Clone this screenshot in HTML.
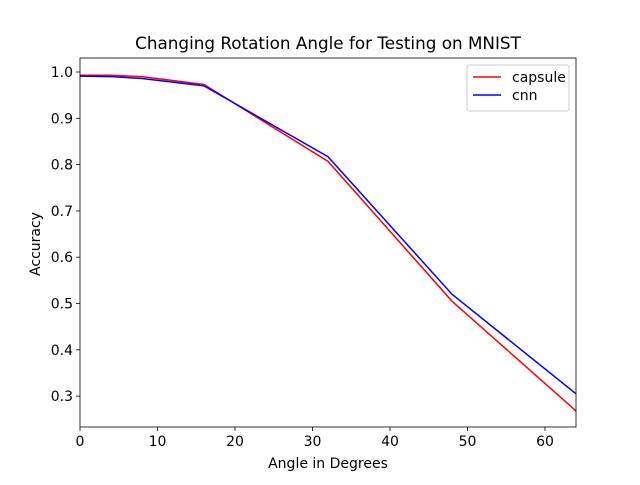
<!DOCTYPE html>
<html><head><meta charset="utf-8"><style>
body{margin:0;background:#fff;}
text{font-family:"DejaVu Sans","Liberation Sans",sans-serif;fill:#000;}
</style></head><body>
<svg id="chart" width="640" height="480" xmlns="http://www.w3.org/2000/svg">
<rect width="640" height="480" fill="#fff"/>
<text x="328" y="49" font-size="16.8" text-anchor="middle">Changing Rotation Angle for Testing on MNIST</text>
<g id="ticks"></g>
<g id="series"></g>
<rect x="80" y="58" width="496" height="369" fill="none" stroke="#000" stroke-width="0.8"/>
<text x="328" y="468" font-size="14" text-anchor="middle">Angle in Degrees</text>
<text x="0" y="0" font-size="14" text-anchor="middle" transform="translate(40,244) rotate(-90)">Accuracy</text>
<g>
<rect x="467" y="65" width="102" height="46" rx="2" fill="#fff" fill-opacity="0.8" stroke="#ccc" stroke-width="1"/>
<line x1="473" y1="77" x2="501" y2="77" stroke="#ff0000" stroke-width="1.5"/>
<text x="512" y="82" font-size="14">capsule</text>
<line x1="473" y1="95" x2="501" y2="95" stroke="#0000ff" stroke-width="1.5"/>
<text x="512" y="100" font-size="14">cnn</text>
</g>
</svg>
<script>
const angles=[0,4,8,16,32,48,64];
const capsule=[0.993,0.993,0.990,0.973,0.807,0.505,0.268];
const cnn=[0.991,0.990,0.986,0.970,0.817,0.520,0.305];
const xTicks=[0,10,20,30,40,50,60];
const yTicks=[0.3,0.4,0.5,0.6,0.7,0.8,0.9,1.0];
const NS="http://www.w3.org/2000/svg";
function xs(v){return 80+v*(496/64);}
function ys(v){return 72+(1.0-v)*463;}
const tg=document.getElementById('ticks');
xTicks.forEach(t=>{
 const l=document.createElementNS(NS,'line');
 l.setAttribute('x1',xs(t));l.setAttribute('x2',xs(t));l.setAttribute('y1',427);l.setAttribute('y2',431);
 l.setAttribute('stroke','#000');l.setAttribute('stroke-width','0.8');
 
 
 tg.appendChild(l);
 const tx=document.createElementNS(NS,'text');
 tx.setAttribute('x',xs(t));tx.setAttribute('y',446);tx.setAttribute('font-size','14');tx.setAttribute('text-anchor','middle');
 tx.textContent=t;
 
 
 tg.appendChild(tx);
});
yTicks.forEach(t=>{
 const l=document.createElementNS(NS,'line');
 l.setAttribute('x1',76);l.setAttribute('x2',80);l.setAttribute('y1',ys(t));l.setAttribute('y2',ys(t));
 l.setAttribute('stroke','#000');l.setAttribute('stroke-width','0.8');
 
 
 tg.appendChild(l);
 const tx=document.createElementNS(NS,'text');
 tx.setAttribute('x',73);tx.setAttribute('y',ys(t)+5);tx.setAttribute('font-size','14');tx.setAttribute('text-anchor','end');
 tx.textContent=t.toFixed(1);
 
 
 tg.appendChild(tx);
});
const sg=document.getElementById('series');
function line(vals,color,name){
 const p=document.createElementNS(NS,'polyline');
 p.setAttribute('points',angles.map((a,i)=>xs(a)+','+ys(vals[i])).join(' '));
 p.setAttribute('fill','none');p.setAttribute('stroke',color);p.setAttribute('stroke-width','1.5');
 
 
 sg.appendChild(p);
}
line(capsule,'#ff0000','capsule-line');
line(cnn,'#0000ff','cnn-line');
</script>
</body></html>
